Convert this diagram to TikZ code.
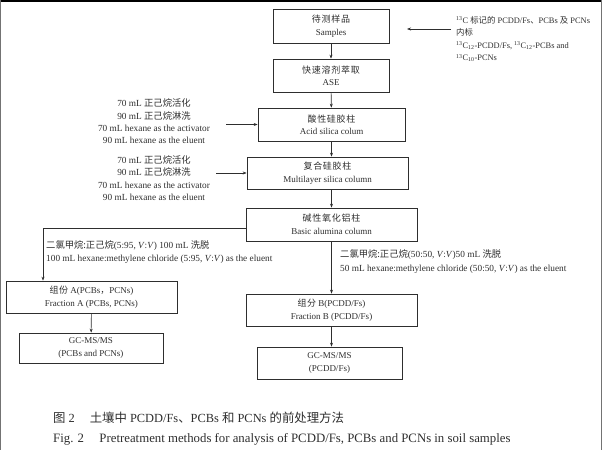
\documentclass[tikz,border=0pt]{standalone}
\usepackage{fontspec}
\setmainfont{Liberation Serif}
\newfontfamily\zhfont{Noto Sans CJK SC}
\newfontfamily\zhsfont[LetterSpace=8]{Noto Sans CJK SC}
\newcommand{\zhn}[1]{{\zhfont #1}}
\newcommand{\zhb}[1]{{\zhsfont #1}}
\usetikzlibrary{arrows.meta}
\definecolor{ink}{gray}{0.18}

\begin{document}
\begin{tikzpicture}[x=1pt,y=-1pt,color=ink]
\useasboundingbox (0,0) rectangle (602,450);
% edges of the scanned page
\draw[black,line width=2pt] (0,1) -- (602,1);
\draw[black!55,line width=1pt] (0.5,0) -- (0.5,450);
\draw[black!55,line width=1pt] (601.5,0) -- (601.5,450);

		\begin{scope}[every node/.style={draw,line width=0.7pt,align=center,inner sep=0pt,
		              font=\fontsize{9}{12.5}\selectfont}]
			\node[minimum width=116pt,minimum height=34pt] (1) at (331,26) {\zhb{待测样品}\\Samples};
			\node[minimum width=116pt,minimum height=33pt] (2) at (331,75.5) {\zhb{快速溶剂萃取}\\ASE};
			\node[minimum width=147pt,minimum height=33pt] (3) at (331.5,124.5) {\zhb{酸性硅胶柱}\\Acid silica colum};
			\node[minimum width=161pt,minimum height=32pt] (4) at (327.5,173) {\zhb{复合硅胶柱}\\Multilayer silica column};
			\node[minimum width=171pt,minimum height=33pt] (5) at (331.5,224.5) {\zhb{碱性氧化铝柱}\\Basic alumina column};
			\node[minimum width=171pt,minimum height=32pt] (6) at (91.5,297) {\zhb{组份} A(PCBs\zhn{，}PCNs)\\Fraction A (PCBs, PCNs)};
			\node[minimum width=144pt,minimum height=30pt] (7) at (91,348) {GC-MS/MS\\(PCBs and PCNs)};
			\node[minimum width=171pt,minimum height=32pt] (8) at (331.5,310) {\zhb{组分} B(PCDD/Fs)\\Fraction B (PCDD/Fs)};
			\node[minimum width=145pt,minimum height=32pt] (9) at (329.5,363) {GC-MS/MS\\(PCDD/Fs)};
		\end{scope}

		\begin{scope}[every node/.style={inner sep=0pt,font=\fontsize{9.3}{12.4}\selectfont}]
			\node[align=left,anchor=west,font=\fontsize{8.4}{12.6}\selectfont] (n1) at (456,39)
			  {\textsuperscript{13}C \zhn{标记的} PCDD/Fs\zhn{、}PCBs \zhn{及} PCNs\\
			   \zhn{内标}\\
			   \textsuperscript{13}C\textsubscript{12}-PCDD/Fs, \textsuperscript{13}C\textsubscript{12}-PCBs and\\
			   \textsuperscript{13}C\textsubscript{10}-PCNs};
			\node[align=center] (n2) at (154,121.5)
			  {70 mL \zhn{正己烷活化}\\90 mL \zhn{正己烷淋洗}\\70 mL hexane as the activator\\90 mL hexane as the eluent};
			\node[align=center] (n3) at (154,178)
			  {70 mL \zhn{正己烷活化}\\90 mL \zhn{正己烷淋洗}\\70 mL hexane as the activator\\90 mL hexane as the eluent};
			\node[align=left,anchor=west,font=\fontsize{9.3}{13}\selectfont] (n4) at (46,252.5)
			  {\zhn{二氯甲烷:正己烷}(5:95, \textit{V}:\textit{V}) 100 mL \zhn{洗脱}\\
			   100 mL hexane:methylene chloride (5:95, \textit{V}:\textit{V}) as the eluent};
			\node[align=left,anchor=west,font=\fontsize{9.3}{14}\selectfont] (n5) at (340,262)
			  {\zhn{二氯甲烷:正己烷}(50:50, \textit{V}:\textit{V})50 mL \zhn{洗脱}\\
			   50 mL hexane:methylene chloride (50:50, \textit{V}:\textit{V}) as the eluent};
		\end{scope}

		\coordinate (t1) at (407,29);
		\coordinate (fa) at (43,0);

	\begin{scope}[>={Stealth[length=4pt,width=3pt]},line width=0.6pt]
	\draw[->] (1) -- (2);
	\draw[->] (2) -- (3);
	\draw[->] (3.south) -- (3.south |- 4.north);
	\draw[->] (4.south -| 5) -- (5.north);
	\draw[->] (5) -- (8);
	\draw[->] (6) -- (7);
	\draw[->] (8.south) -- (8.south |- 9.north);
	\draw[->] ([yshift=-3.5pt]5.west) -| (fa |- 6.north);
	\draw[->] ([xshift=-5pt]n1.west |- t1) -- (t1);
	\draw[->] ([xshift=16pt]n2.east |- 3.west) -- (3.west);
	\draw[->] ([xshift=6pt]n3.east |- 4.west) -- (4.west);
	\end{scope}

	\node[anchor=base west,inner sep=0pt,font=\fontsize{12.4}{14}\selectfont] (c1) at (53,422)
	  {\zhn{图} 2\hspace{1.2em}\zhn{土壤中} PCDD/Fs\zhn{、}PCBs \zhn{和} PCNs \zhn{的前处理方法}};
	\node[anchor=base west,inner sep=0pt,font=\fontsize{12.8}{14}\selectfont] (c2) at (53,442)
	  {Fig. 2\hspace{1.2em}Pretreatment methods for analysis of PCDD/Fs, PCBs and PCNs in soil samples};
\end{tikzpicture}
\end{document}
